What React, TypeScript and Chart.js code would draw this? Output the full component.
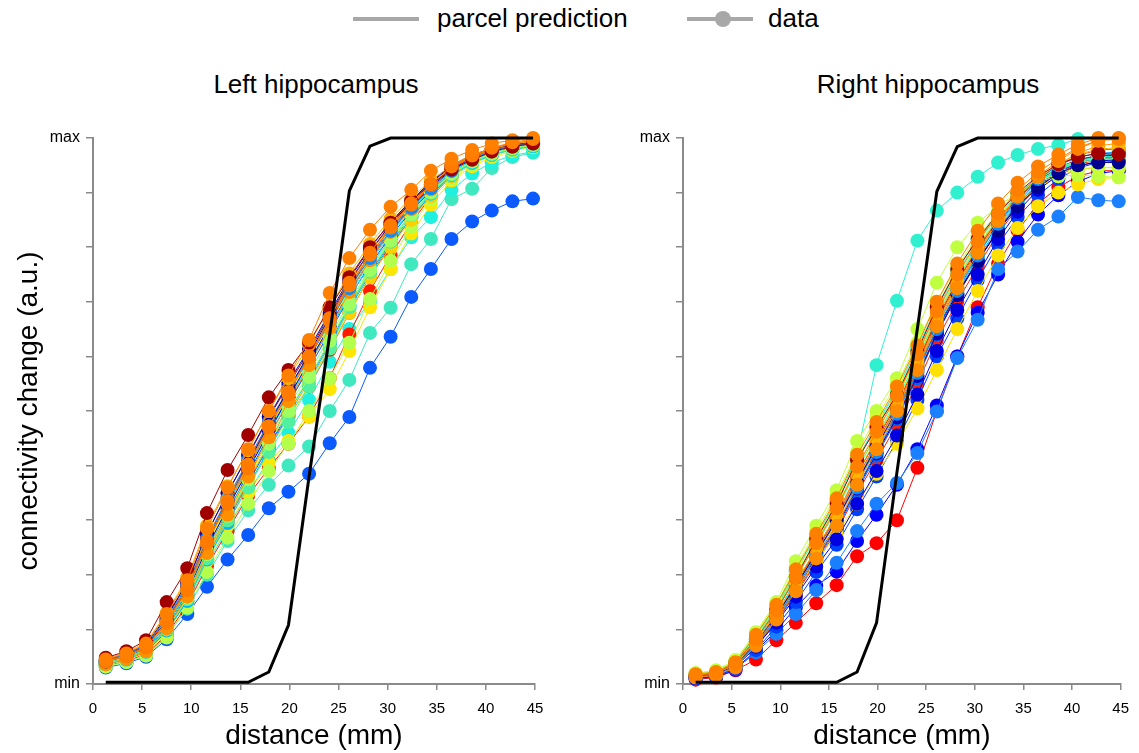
import React, { useEffect, useRef } from "react";
import { Chart, registerables } from "chart.js";

Chart.register(...registerables);

// ---------- data ----------
const distances = [1.3, 3.4, 5.4, 7.5, 9.6, 11.6, 13.7, 15.8, 17.9, 19.9, 22.0, 24.1, 26.1, 28.2, 30.3, 32.4, 34.4, 36.5, 38.6, 40.6, 42.7, 44.8];
const yTickNames = ["min", "max"];
const panelTitles = ["Left hippocampus", "Right hippocampus"];
const legendLabels = ["parcel prediction", "data"];

const leftPrediction = [0.003, 0.003, 0.003, 0.003, 0.003, 0.003, 0.003, 0.003, 0.022, 0.108, 0.38, 0.64, 0.903, 0.985, 1, 1, 1, 1, 1, 1, 1, 1];
const rightPrediction = [0.003, 0.003, 0.003, 0.003, 0.003, 0.003, 0.003, 0.003, 0.022, 0.112, 0.388, 0.651, 0.902, 0.984, 1, 1, 1, 1, 1, 1, 1, 1];

// left hemisphere subjects
const leftOrange1 = [.045, .056, .074, .128, .190, .285, .360, .430, .500, .565, .630, .716, .780, .832, .874, .905, .940, .962, .978, .990, .996, 1.0];
const leftOrange2 = [.038, .048, .062, .100, .160, .235, .300, .370, .440, .510, .585, .660, .725, .785, .835, .875, .912, .945, .965, .980, .990, .995];
const leftOrange3 = [.042, .052, .068, .112, .172, .258, .330, .395, .470, .530, .600, .670, .735, .790, .840, .880, .915, .948, .968, .982, .992, .998];
const leftOrange4 = [.041, .051, .067, .114, .176, .262, .335, .402, .472, .535, .598, .665, .730, .786, .836, .878, .914, .946, .966, .980, .990, .996];
const leftOrange5 = [.036, .046, .060, .102, .160, .240, .310, .380, .452, .518, .584, .652, .718, .776, .828, .870, .906, .940, .962, .978, .988, .994];
const leftDarkRed = [.048, .060, .080, .150, .212, .313, .392, .456, .525, .575, .625, .690, .745, .800, .845, .885, .915, .942, .960, .975, .984, .990];
const leftDarkRed2 = [.043, .054, .070, .122, .185, .275, .350, .418, .488, .548, .610, .676, .738, .792, .840, .880, .914, .944, .964, .978, .986, .991];
const leftAmber = [.046, .058, .076, .130, .195, .290, .362, .428, .500, .560, .622, .690, .752, .806, .852, .890, .922, .950, .969, .981, .989, .994];
const leftYellow = [.040, .050, .066, .110, .170, .250, .320, .380, .445, .495, .555, .615, .680, .745, .800, .850, .893, .930, .955, .970, .980, .987];
const leftYellow2 = [.035, .045, .058, .096, .150, .225, .290, .350, .405, .445, .490, .540, .610, .690, .760, .825, .878, .922, .948, .965, .976, .983];
const leftYellow3 = [.041, .051, .066, .112, .172, .256, .326, .396, .466, .528, .592, .658, .722, .780, .830, .872, .908, .940, .962, .976, .985, .990];
const leftLime = [.032, .040, .052, .085, .140, .205, .268, .330, .390, .440, .500, .560, .625, .705, .775, .838, .888, .926, .952, .968, .978, .984];
const leftLime2 = [.037, .047, .061, .102, .158, .238, .308, .375, .440, .500, .562, .628, .695, .758, .812, .860, .900, .934, .957, .971, .981, .987];
const leftLime3 = [.034, .044, .057, .094, .150, .226, .294, .362, .430, .486, .548, .618, .686, .750, .806, .856, .898, .933, .956, .970, .980, .986];
const leftGreen = [.039, .049, .063, .106, .164, .244, .314, .382, .450, .508, .570, .636, .700, .762, .815, .862, .902, .936, .958, .972, .982, .988];
const leftSpring = [.036, .046, .060, .100, .155, .230, .300, .360, .425, .480, .545, .615, .690, .755, .810, .860, .900, .935, .958, .972, .982, .988];
const leftTeal = [.037, .047, .060, .100, .158, .236, .304, .372, .440, .500, .560, .628, .694, .758, .812, .860, .900, .934, .956, .970, .980, .986];
const leftCyan = [.040, .050, .065, .110, .168, .260, .330, .400, .465, .525, .590, .650, .710, .765, .815, .860, .898, .932, .955, .970, .980, .986];
const leftCyan2 = [.038, .048, .063, .106, .165, .250, .322, .392, .460, .522, .585, .650, .714, .772, .824, .868, .905, .938, .960, .974, .983, .989];
const leftDodger = [.044, .055, .072, .120, .180, .265, .340, .410, .480, .540, .600, .665, .725, .780, .830, .872, .908, .940, .962, .976, .985, .990];
const leftDodger2 = [.042, .053, .069, .116, .176, .262, .334, .402, .472, .534, .596, .662, .726, .782, .832, .874, .910, .942, .963, .977, .986, .991];
const leftBlue = [.038, .047, .062, .104, .162, .245, .315, .385, .455, .515, .578, .645, .708, .768, .820, .866, .903, .936, .958, .972, .982, .988];
const leftBlue2 = [.035, .045, .058, .096, .152, .232, .300, .368, .436, .498, .560, .626, .692, .754, .808, .856, .897, .932, .956, .970, .980, .986];
const leftNavy = [.041, .052, .068, .115, .175, .262, .335, .405, .475, .540, .605, .672, .735, .792, .842, .883, .918, .948, .968, .980, .988, .993];
const leftNavy2 = [.044, .055, .072, .124, .186, .276, .350, .420, .490, .552, .614, .680, .742, .798, .846, .886, .920, .950, .969, .981, .989, .994];
const leftDarkBlue = [.039, .049, .064, .106, .165, .250, .322, .392, .462, .525, .590, .655, .718, .776, .828, .872, .910, .942, .963, .976, .985, .991];
const leftRed = [.034, .042, .055, .090, .145, .215, .280, .345, .395, .440, .490, .560, .640, .720, .785, .845, .892, .930, .955, .970, .980, .985];
const leftRed2 = [.037, .046, .060, .100, .158, .238, .305, .372, .438, .490, .545, .612, .680, .746, .802, .854, .896, .932, .956, .971, .981, .987];
const leftOrangeRed = [.043, .054, .070, .118, .178, .268, .340, .408, .478, .540, .602, .668, .730, .786, .835, .876, .912, .944, .965, .978, .987, .992];
const leftSky = [.036, .045, .059, .098, .152, .228, .295, .362, .430, .492, .555, .622, .688, .750, .805, .853, .895, .930, .954, .969, .979, .985];
const leftLowBlue = [.030, .038, .050, .082, .128, .178, .228, .273, .322, .352, .385, .441, .489, .579, .636, .709, .760, .815, .847, .867, .884, .889];
const leftAqua = [.032, .040, .052, .088, .138, .200, .262, .318, .365, .400, .435, .500, .557, .643, .689, .769, .815, .888, .907, .945, .965, .973];
const leftTurquoise = [.035, .044, .058, .095, .150, .220, .285, .350, .410, .460, .520, .590, .650, .700, .760, .818, .855, .905, .935, .955, .968, .975];

// right hemisphere subjects
const rightOrange1 = [.018, .022, .040, .090, .145, .210, .275, .340, .420, .480, .545, .620, .700, .770, .830, .880, .918, .948, .970, .988, 1.0, 1.0];
const rightOrange2 = [.012, .016, .030, .070, .118, .170, .230, .290, .365, .430, .500, .575, .655, .725, .790, .848, .893, .930, .958, .980, .995, .998];
const rightOrange3 = [.016, .020, .037, .082, .134, .195, .258, .322, .398, .462, .528, .604, .682, .750, .810, .862, .904, .938, .962, .982, .996, .999];
const rightOrange4 = [.013, .017, .032, .072, .120, .176, .236, .298, .372, .438, .505, .582, .660, .730, .792, .846, .890, .925, .952, .972, .986, .990];
const rightAmber = [.015, .019, .036, .078, .128, .185, .248, .310, .385, .450, .515, .592, .672, .740, .800, .852, .895, .928, .952, .970, .980, .982];
const rightOrangeRed = [.014, .019, .035, .076, .125, .182, .244, .305, .378, .442, .508, .585, .665, .735, .795, .850, .892, .925, .950, .968, .978, .980];
const rightDarkRed = [.015, .020, .038, .082, .135, .195, .265, .330, .410, .470, .530, .610, .690, .760, .815, .862, .900, .930, .952, .965, .972, .970];
const rightDarkRed2 = [.014, .018, .034, .076, .126, .184, .246, .310, .384, .448, .512, .590, .668, .738, .798, .850, .890, .922, .946, .960, .968, .968];
const rightYellow = [.014, .018, .034, .075, .122, .172, .225, .275, .330, .385, .440, .505, .575, .650, .720, .785, .835, .875, .900, .915, .925, .928];
const rightYellow2 = [.016, .021, .039, .086, .138, .200, .262, .322, .395, .455, .515, .590, .665, .732, .790, .840, .880, .910, .930, .942, .946, .946];
const rightYellowGreen = [.020, .025, .044, .095, .150, .225, .290, .355, .445, .500, .560, .650, .735, .800, .845, .875, .900, .920, .930, .932, .930, .928];
const rightLime = [.017, .022, .040, .085, .138, .200, .262, .325, .400, .460, .525, .600, .678, .748, .805, .855, .893, .922, .942, .955, .960, .960];
const rightLime2 = [.019, .024, .043, .092, .146, .214, .280, .346, .425, .488, .550, .625, .700, .765, .820, .864, .896, .920, .936, .944, .946, .945];
const rightGreen = [.017, .022, .041, .088, .142, .206, .270, .335, .410, .472, .536, .612, .690, .758, .815, .862, .898, .926, .946, .958, .962, .962];
const rightSpring = [.016, .021, .040, .088, .140, .205, .270, .335, .410, .470, .530, .605, .685, .755, .810, .858, .895, .925, .945, .958, .965, .966];
const rightTeal = [.015, .020, .038, .084, .134, .194, .256, .318, .392, .455, .520, .596, .674, .744, .802, .852, .890, .920, .942, .955, .960, .960];
const rightCyan = [.016, .020, .037, .080, .130, .188, .245, .305, .375, .440, .505, .580, .655, .725, .785, .840, .882, .918, .942, .958, .968, .970];
const rightCyan2 = [.018, .023, .042, .090, .144, .208, .272, .336, .412, .475, .540, .615, .692, .760, .816, .862, .898, .926, .946, .960, .966, .968];
const rightSky = [.013, .018, .033, .074, .122, .178, .238, .298, .368, .432, .498, .572, .650, .718, .780, .836, .880, .915, .940, .956, .965, .967];
const rightDodger = [.013, .017, .032, .072, .120, .175, .235, .290, .360, .425, .495, .570, .650, .720, .785, .843, .890, .925, .950, .965, .972, .974];
const rightDodger2 = [.014, .018, .034, .075, .124, .180, .240, .300, .372, .436, .502, .578, .656, .726, .788, .842, .886, .920, .945, .960, .968, .970];
const rightBlue = [.010, .014, .028, .062, .105, .150, .205, .255, .320, .380, .445, .520, .600, .670, .740, .805, .855, .895, .925, .945, .955, .958];
const rightBlue2 = [.012, .016, .030, .068, .114, .168, .226, .284, .354, .418, .485, .560, .640, .712, .775, .832, .878, .914, .940, .956, .964, .966];
const rightNavy = [.014, .018, .035, .078, .126, .180, .240, .300, .370, .435, .500, .575, .650, .715, .775, .830, .875, .910, .935, .950, .955, .955];
const rightNavy2 = [.013, .017, .032, .072, .118, .172, .230, .288, .358, .422, .488, .564, .642, .712, .774, .830, .876, .912, .938, .954, .962, .963];
const rightDarkBlue = [.011, .015, .030, .068, .112, .160, .215, .265, .330, .390, .455, .530, .610, .685, .750, .815, .865, .905, .932, .948, .958, .960];
const rightRed = [.012, .016, .031, .070, .115, .165, .222, .280, .350, .410, .475, .550, .630, .700, .765, .825, .872, .910, .936, .952, .960, .962];
const rightRed2 = [.013, .017, .032, .072, .118, .170, .228, .288, .360, .424, .490, .566, .644, .714, .776, .832, .878, .914, .940, .956, .964, .966];
const rightLowRed = [.008, .012, .025, .045, .080, .112, .148, .181, .234, .258, .300, .396, .500, .600, .690, .770, .830, .880, .910, .930, .940, .940];
const rightEarlyAqua = [.015, .020, .040, .090, .140, .200, .262, .330, .420, .584, .702, .812, .867, .900, .929, .955, .969, .980, .987, .998, .998, .996];
const rightFlatBlue = [.010, .014, .028, .058, .092, .128, .172, .222, .280, .330, .368, .423, .499, .597, .667, .760, .792, .832, .856, .892, .886, .884];
const rightLowBlue = [.010, .013, .026, .060, .098, .140, .180, .206, .262, .310, .365, .430, .510, .600, .680, .750, .810, .860, .895, .920, .935, .940];

const leftSubjects: [number[], string][] = [
  [leftOrange1, "#ff8000"],
  [leftOrange3, "#ff7a00"],
  [leftDarkRed, "#a00000"],
  [leftOrange4, "#ff8000"],
  [leftAmber, "#ffb000"],
  [leftNavy, "#000096"],
  [leftDodger, "#0a8cff"],
  [leftOrange5, "#ff9000"],
  [leftLime2, "#a0ff60"],
  [leftNavy2, "#0000b4"],
  [leftOrangeRed, "#ff4500"],
  [leftGreen, "#80ff80"],
  [leftDarkBlue, "#0000dc"],
  [leftDarkRed2, "#b00000"],
  [leftCyan, "#00d8ff"],
  [leftYellow3, "#fff000"],
  [leftBlue, "#0050ff"],
  [leftSpring, "#50f0a0"],
  [leftDodger2, "#1e78ff"],
  [leftOrange2, "#ff8c00"],
  [leftTeal, "#40ffc0"],
  [leftYellow, "#ffd000"],
  [leftCyan2, "#00f0ff"],
  [leftSky, "#00b4ff"],
  [leftLime3, "#c8ff38"],
  [leftBlue2, "#0064ff"],
  [leftLime, "#b4ff4c"],
  [leftRed2, "#ff3000"],
  [leftYellow2, "#ffe600"],
  [leftRed, "#ff1a00"],
  [leftTurquoise, "#20f0e0"],
  [leftAqua, "#40e8c0"],
  [leftLowBlue, "#0a5aff"],
];

const rightSubjects: [number[], string][] = [
  [rightOrange1, "#ff8000"],
  [rightOrange3, "#ff8000"],
  [rightOrange2, "#ff8c00"],
  [rightDarkRed, "#a00000"],
  [rightAmber, "#ffb400"],
  [rightDodger, "#0a8cff"],
  [rightNavy, "#000090"],
  [rightOrange4, "#ff9400"],
  [rightLime2, "#c8ff38"],
  [rightOrangeRed, "#ff5000"],
  [rightYellowGreen, "#c0ff40"],
  [rightGreen, "#80ff80"],
  [rightSpring, "#40f0b0"],
  [rightDarkRed2, "#b00000"],
  [rightDarkBlue, "#0000e0"],
  [rightCyan2, "#00f0ff"],
  [rightCyan, "#00e0ff"],
  [rightTeal, "#40ffc0"],
  [rightLime, "#a0ff60"],
  [rightYellow2, "#ffd000"],
  [rightDodger2, "#1e78ff"],
  [rightYellow, "#ffe000"],
  [rightNavy2, "#0000b4"],
  [rightSky, "#00b4ff"],
  [rightBlue2, "#0064ff"],
  [rightRed2, "#ff3000"],
  [rightBlue, "#0040ff"],
  [rightRed, "#ff2000"],
  [rightEarlyAqua, "#30f0d0"],
  [rightFlatBlue, "#1a80ff"],
  [rightLowBlue, "#0000ff"],
  [rightLowRed, "#ff0000"],
];

const FONT = "'Liberation Sans', Arial, Helvetica, sans-serif";
const AXIS_GRAY = "#8a8a8a";

function buildDatasets(prediction: number[], subjects: [number[], string][]) {
  const ds: any[] = [
    {
      label: "parcel prediction",
      data: distances.map((x, i) => ({ x, y: prediction[i] })),
      borderColor: "#000000",
      borderWidth: 3,
      pointRadius: 0,
      clip: false,
    },
  ];
  subjects.forEach(([vals, color], k) => {
    ds.push({
      label: "data " + (k + 1),
      data: distances.map((x, i) => ({ x, y: vals[i] })),
      borderColor: color,
      backgroundColor: color,
      borderWidth: 1,
      pointRadius: 7,
      pointBorderWidth: 0,
      pointBackgroundColor: color,
      clip: false,
    });
  });
  return ds;
}

function makeConfig(prediction: number[], subjects: [number[], string][], yAxisWidth: number, rightPad: number, showYTitle: boolean): any {
  return {
    type: "line",
    data: { datasets: buildDatasets(prediction, subjects) },
    options: {
      responsive: false,
      animation: false,
      events: [],
      layout: { padding: { left: 0, top: 78, right: rightPad, bottom: 0 } },
      plugins: { legend: { display: false }, tooltip: { enabled: false }, title: { display: false } },
      elements: { line: { tension: 0 } },
      scales: {
        x: {
          type: "linear",
          min: 0,
          max: 45,
          offset: false,
          ticks: { stepSize: 5, color: "#000", font: { family: FONT, size: 15 }, padding: 10, maxRotation: 0 },
          grid: { drawOnChartArea: false, drawTicks: true, tickLength: 6, color: AXIS_GRAY, lineWidth: 1.5 },
          border: { display: true, color: AXIS_GRAY, width: 2 },
          title: { display: true, text: "distance (mm)", color: "#000", font: { family: FONT, size: 28 }, padding: { top: 0, bottom: 0 } },
          afterFit: (s: any) => { s.height = 69; },
        },
        y: {
          type: "linear",
          min: 0,
          max: 1,
          ticks: {
            stepSize: 0.1,
            autoSkip: false,
            color: "#000",
            font: { family: FONT, size: 16 },
            padding: 6,
            callback: (v: number) => (Math.abs(v) < 1e-6 ? yTickNames[0] : Math.abs(v - 1) < 1e-6 ? yTickNames[1] : ""),
          },
          grid: { drawOnChartArea: false, drawTicks: true, tickLength: 7, color: AXIS_GRAY, lineWidth: 1.5 },
          border: { display: true, color: AXIS_GRAY, width: 2 },
          title: { display: showYTitle, text: "connectivity change (a.u.)", color: "#000", font: { family: FONT, size: 28 }, padding: { top: 12, bottom: 0 } },
          afterFit: (s: any) => { s.width = yAxisWidth; },
        },
      },
    },
  };
}

export default function App() {
  const leftRef = useRef<HTMLCanvasElement | null>(null);
  const rightRef = useRef<HTMLCanvasElement | null>(null);

  useEffect(() => {
    document.body.style.margin = "0";
    const left = new Chart(leftRef.current as HTMLCanvasElement, makeConfig(leftPrediction, leftSubjects, 93, 25, true));
    const right = new Chart(rightRef.current as HTMLCanvasElement, makeConfig(rightPrediction, rightSubjects, 123, 13, false));
    return () => {
      left.destroy();
      right.destroy();
    };
  }, []);

  const textStyle: React.CSSProperties = {
    position: "absolute",
    fontFamily: FONT,
    fontSize: 26,
    lineHeight: "30px",
    color: "#000",
    whiteSpace: "nowrap",
  };

  return (
    <div style={{ position: "fixed", left: 0, top: 0, width: 1139, height: 753, background: "#fff", overflow: "hidden" }}>
      {/* legend */}
      <div style={{ position: "absolute", left: 353, top: 17, width: 66, height: 4, background: "#a8a8a8" }} />
      <div style={{ ...textStyle, left: 437, top: 3 }}>{legendLabels[0]}</div>
      <div style={{ position: "absolute", left: 687, top: 17, width: 66, height: 4, background: "#a8a8a8" }} />
      <div style={{ position: "absolute", left: 715, top: 11, width: 16, height: 16, borderRadius: "50%", background: "#a8a8a8" }} />
      <div style={{ ...textStyle, left: 768, top: 3 }}>{legendLabels[1]}</div>

      {/* panel titles */}
      <div style={{ ...textStyle, left: 116, width: 400, textAlign: "center", top: 69 }}>{panelTitles[0]}</div>
      <div style={{ ...textStyle, left: 728, width: 400, textAlign: "center", top: 69 }}>{panelTitles[1]}</div>

      <canvas ref={leftRef} width={560} height={693} style={{ position: "absolute", left: 0, top: 60, width: 560, height: 693 }} />
      <canvas ref={rightRef} width={579} height={693} style={{ position: "absolute", left: 560, top: 60, width: 579, height: 693 }} />
    </div>
  );
}
